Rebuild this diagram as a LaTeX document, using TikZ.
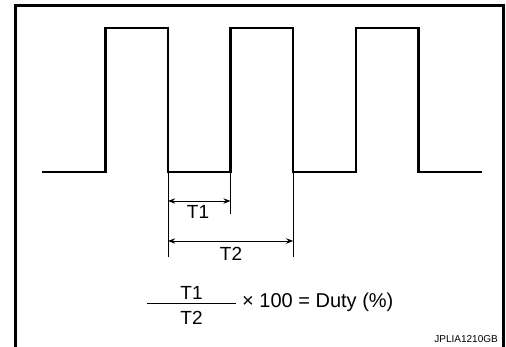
\documentclass[tikz,border=0pt]{standalone}
\usepackage{fontspec}
\setmainfont{Liberation Sans}
\usetikzlibrary{arrows.meta,calc}
\tikzset{
  moldura/.style={line width=3pt},
  sinal/.style={line width=2.4pt, line join=miter},
  cota/.style={line width=0.9pt},
  setacota/.style={{Stealth[length=2.5mm,width=1.9mm]}-{Stealth[length=2.5mm,width=1.9mm]}, line width=0.9pt},
  rotulo/.style={font=\fontsize{19}{21}\selectfont, inner sep=0pt},
  formula/.style={font=\fontsize{20}{22}\selectfont, inner sep=0pt},
  codigo/.style={font=\fontsize{10}{12}\selectfont, inner sep=0pt},
}

\begin{document}
\begin{tikzpicture}[x=1pt, y=-1pt]
    \useasboundingbox (0,0) rectangle (506,347);
    % moldura
    \draw[moldura] (15,350) -- (15,6) -- (503,6) -- (503,350);
    % sinal
    \draw[sinal] (42,172)
        \foreach \i in {0,1,2}{
            -- ({105.3+125.2*\i},172) -- ({105.3+125.2*\i},28)
            -- ({168+125.2*\i},28) -- ({168+125.2*\i},172)
        } -- (482,172);
    \coordinate (desce1) at (168,172);
    \coordinate (sobe2) at (230.5,172);
    \coordinate (desce2) at (293.2,172);
    % cotas
    \coordinate (fim1) at (168,257);
    \coordinate (fim2) at (230.5,214);
    \coordinate (fim3) at (293.2,257);
    \draw[cota] (desce1) -- (fim1);
    \draw[cota] (sobe2) -- (fim2);
    \draw[cota] (desce2) -- (fim3);
    \coordinate (t1esq) at (168,201);
    \coordinate (t1dir) at (230.5,201);
    \coordinate (t2esq) at (168,241);
    \coordinate (t2dir) at (293.2,241);
    \draw[setacota] (t1esq) -- (t1dir);
    \draw[setacota] (t2esq) -- (t2dir);
    \node[rotulo, anchor=base] (t1) at (198,219) {T1};
    \node[rotulo, anchor=base] (t2) at (231,261) {T2};
    % formula
    \node[rotulo, anchor=base] (num) at (191.5,300) {T1};
    \node[rotulo, anchor=base] (den) at (191.5,324) {T2};
    \coordinate (barraesq) at (147,303.5);
    \coordinate (barradir) at (236,303.5);
    \draw[line width=1.3pt] (barraesq) -- (barradir);
    \node[formula, anchor=base west] (duty) at (242,308) {× 100 = Duty (\%)};
    \node[codigo, anchor=base east] (ref) at (498,342) {JPLIA1210GB};
\end{tikzpicture}
\end{document}
